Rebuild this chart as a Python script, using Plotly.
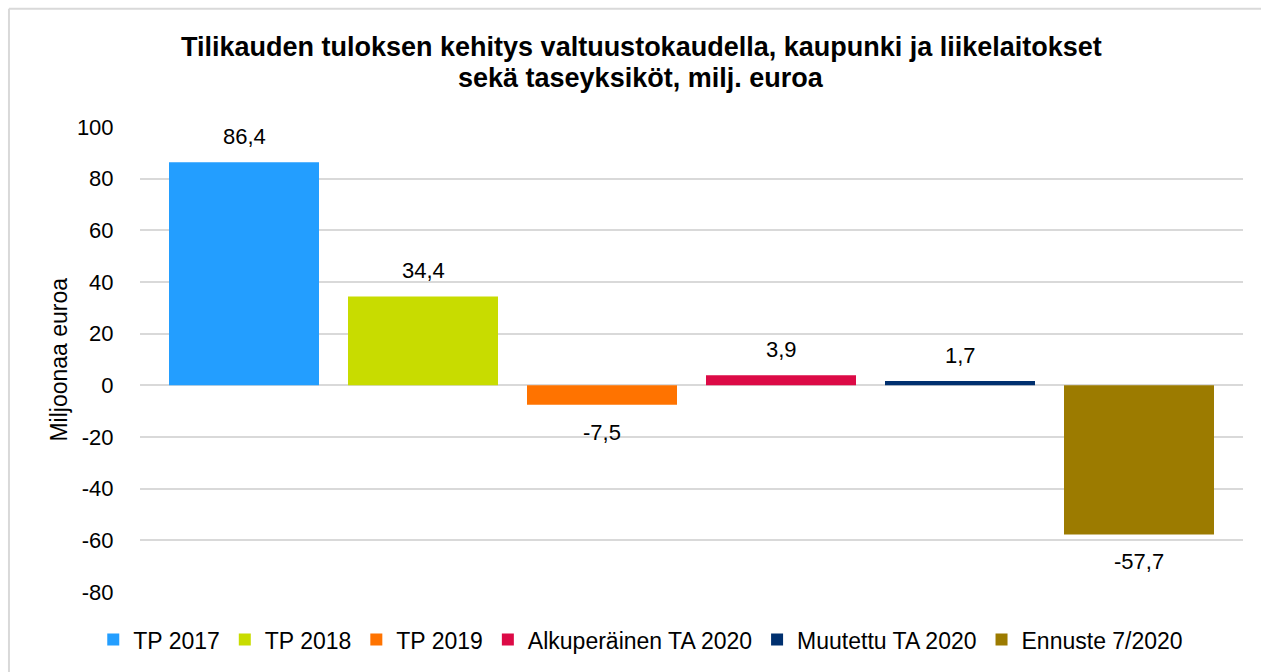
import plotly.graph_objects as go

series = ["TP 2017", "TP 2018", "TP 2019", "Alkuperäinen TA 2020", "Muutettu TA 2020", "Ennuste 7/2020"]
values = [86.4, 34.4, -7.5, 3.9, 1.7, -57.7]
colors = ["#239EFF", "#C8DC00", "#FF7300", "#DC0A46", "#00306F", "#9C7B00"]
yticks = [-80, -60, -40, -20, 0, 20, 40, 60, 80, 100]

FONT = "Liberation Sans, Arial, sans-serif"

fig = go.Figure()
for i, (name, v, c) in enumerate(zip(series, values, colors)):
    fig.add_trace(go.Bar(x=[i], y=[v], name=name, marker=dict(color=c, line=dict(width=0)),
                         width=0.838, hoverinfo="y+name"))

annotations = []
for i, v in enumerate(values):
    label = f"{v:.1f}".replace(".", ",")
    annotations.append(dict(x=i, y=v, xref="x", yref="y", text=label, showarrow=False,
                            yanchor="bottom" if v >= 0 else "top",
                            yshift=11 if v >= 0 else -13,
                            font=dict(size=22, color="#000000", family=FONT)))

annotations += [
    dict(x=0.4543, y=1.1717, xref="paper", yref="paper", showarrow=False,
         text="<b>Tilikauden tuloksen kehitys valtuustokaudella, kaupunki ja liikelaitokset</b>",
         font=dict(size=27, color="#000000", family=FONT), xanchor="center", yanchor="middle"),
    dict(x=0.4543, y=1.1052, xref="paper", yref="paper", showarrow=False,
         text="<b>sekä taseyksiköt, milj. euroa</b>",
         font=dict(size=27, color="#000000", family=FONT), xanchor="center", yanchor="middle"),
    dict(x=-0.0743, y=0.5, xref="paper", yref="paper", showarrow=False,
         text="Miljoonaa euroa", textangle=-90,
         font=dict(size=23, color="#000000", family=FONT), xanchor="center", yanchor="middle"),
]

fig.update_layout(
    width=1261, height=672,
    margin=dict(l=140, r=18, t=127, b=79),
    paper_bgcolor="#FFFFFF", plot_bgcolor="#FFFFFF",
    barmode="overlay",
    showlegend=True,
    legend=dict(orientation="h", x=0.454, xanchor="center", y=-0.10, yanchor="middle",
                font=dict(size=23, color="#000000", family=FONT), traceorder="normal"),
    xaxis=dict(range=[-0.581, 5.581], showticklabels=False, showgrid=False, zeroline=False,
               showline=False, fixedrange=True),
    yaxis=dict(range=[-80, 100], tickvals=yticks, ticktext=[str(t) for t in yticks],
               showgrid=True, gridcolor="#D9D9D9", gridwidth=1.5,
               zeroline=True, zerolinecolor="#D9D9D9", zerolinewidth=1.5,
               showline=False, ticks="outside", ticklen=21, tickcolor="rgba(0,0,0,0)",
               tickfont=dict(size=22, color="#000000", family=FONT)),
    annotations=annotations,
    shapes=[
        dict(type="line", xref="paper", yref="paper", x0=-0.1188, x1=1.02, y0=1.2543, y1=1.2543,
             line=dict(color="#D9D9D9", width=2)),
        dict(type="line", xref="paper", yref="paper", x0=-0.1188, x1=-0.1188, y0=-0.2, y1=1.2543,
             line=dict(color="#D9D9D9", width=2)),
    ],
)

fig.write_html("out.html", config={"displayModeBar": False},
               post_script="document.body.style.margin='0';document.body.style.overflow='hidden';")
